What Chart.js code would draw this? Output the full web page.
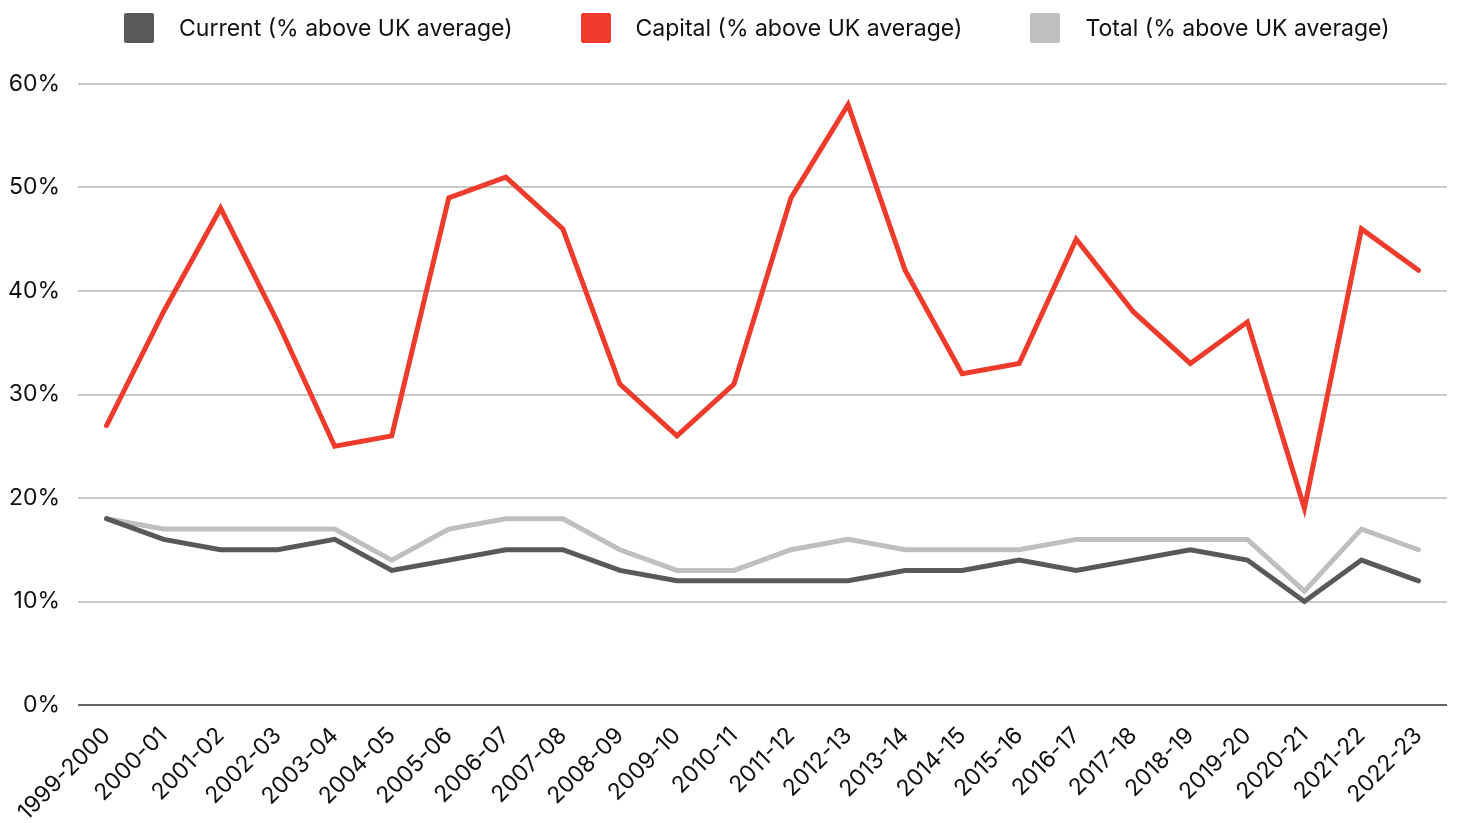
<!DOCTYPE html>
<html>
<head>
<meta charset="utf-8">
<script src="https://cdn.jsdelivr.net/npm/chart.js@4.4.0/dist/chart.umd.min.js"></script>
<style>
  html, body { margin: 0; padding: 0; background: #fff; }
  body { width: 1457px; height: 823px; position: relative; overflow: hidden; font-family: Inter, "Noto Sans", sans-serif; }
  #legend { position: absolute; top: 13px; left: 124px; display: flex; align-items: center; white-space: nowrap; z-index: 2; }
  .item { display: flex; align-items: center; margin-right: 68px; font-size: 23px; color: #111; }
  .box { width: 30px; height: 30px; border-radius: 2px; margin-right: 25px; flex: none; }
  canvas { position: absolute; left: 0; top: 0; }
</style>
</head>
<body>
<div id="legend"></div>
<canvas id="myChart"></canvas>
<script>
const years = ['1999-2000', '2000-01', '2001-02', '2002-03', '2003-04', '2004-05', '2005-06', '2006-07',
  '2007-08', '2008-09', '2009-10', '2010-11', '2011-12', '2012-13', '2013-14', '2014-15', '2015-16',
  '2016-17', '2017-18', '2018-19', '2019-20', '2020-21', '2021-22', '2022-23'];
const current = [18, 16, 15, 15, 16, 13, 14, 15, 15, 13, 12, 12, 12, 12, 13, 13, 14, 13, 14, 15, 14, 10, 14, 12];
const capital = [27, 38, 48, 37, 25, 26, 49, 51, 46, 31, 26, 31, 49, 58, 42, 32, 33, 45, 38, 33, 37, 19, 46, 42];
const total = [18, 17, 17, 17, 17, 14, 17, 18, 18, 15, 13, 13, 15, 16, 15, 15, 15, 16, 16, 16, 16, 11, 17, 15];
const yTicks = [0, 10, 20, 30, 40, 50, 60];

const series = [
  { label: 'Current (% above UK average)', data: current, color: '#595959' },
  { label: 'Capital (% above UK average)', data: capital, color: '#EE3B2C' },
  { label: 'Total (% above UK average)', data: total, color: '#BFBFBF' }
];

// legend drawn as html so the spacing matches
series.forEach(s => {
  let item = document.createElement('div');
  item.className = 'item';
  item.innerHTML = `<span class="box" style="background:${s.color}"></span><span>${s.label}</span>`;
  document.getElementById('legend').appendChild(item);
});

let chartCanvas = document.getElementById('myChart');
chartCanvas.width = 1457;
chartCanvas.height = 823;
let ctx = chartCanvas.getContext('2d');

new Chart(ctx, {
  type: 'line',
  data: {
    labels: years,
    datasets: series.map(s => ({
      label: s.label,
      data: s.data,
      borderColor: s.color,
      backgroundColor: s.color,
      borderWidth: 5,
      borderCapStyle: 'round',
      pointRadius: 0,
      tension: 0,
      fill: false
    }))
  },
  options: {
    responsive: false,
    animation: false,
    layout: { padding: { top: 84, right: 10, left: 0, bottom: 0 } },
    plugins: { legend: { display: false }, tooltip: { enabled: false } },
    scales: {
      x: {
        offset: true,
        grid: { display: false },
        border: { display: false },
        ticks: {
          minRotation: 45, maxRotation: 45, autoSkip: false,
          color: '#111', padding: 9,
          font: { family: 'Inter', size: 23 }
        },
        afterFit: scale => { scale.height = 118; }
      },
      y: {
        min: 0, max: 60,
        afterBuildTicks: scale => { scale.ticks = yTicks.map(v => ({ value: v })); },
        border: { display: false },
        grid: {
          color: c => c.tick.value === 0 ? '#666666' : '#C8C8C8',
          lineWidth: 2,
          drawTicks: false
        },
        ticks: {
          color: '#111', padding: 18,
          font: { family: 'Inter', size: 23 },
          callback: v => v + '%'
        },
        afterFit: scale => { scale.width = 78; }
      }
    }
  }
});
</script>
</body>
</html>
